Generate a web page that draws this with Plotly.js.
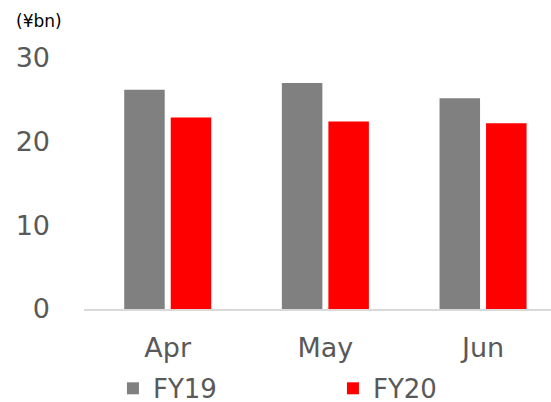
<!DOCTYPE html>
<html>
<head>
<meta charset="utf-8">
<script src="https://cdn.plot.ly/plotly-3.0.1.min.js"></script>
<style>html,body{margin:0;padding:0;background:#fff;}#chart{width:551px;height:402px;}</style>
</head>
<body>
<div id="chart"></div>
<script>
const categories = ["Apr", "May", "Jun"];
const seriesNames = ["FY19", "FY20"];
const fy19 = [26.2, 27.0, 25.2];
const fy20 = [22.9, 22.4, 22.2];
const yTicks = [0, 10, 20, 30];
const unitLabel = "(¥bn)";

const FONT = "DejaVu Sans, Verdana, sans-serif";
const TXT = "#595959";

const traces = [
  {type: "bar", name: seriesNames[0], x: categories, y: fy19, marker: {color: "#808080"}, hoverinfo: "none"},
  {type: "bar", name: seriesNames[1], x: categories, y: fy20, marker: {color: "#FF0000"}, hoverinfo: "none"}
];

const layout = {
  width: 551, height: 402,
  margin: {l: 84, r: 0, t: 58, b: 93, pad: 0, autoexpand: false},
  paper_bgcolor: "#fff", plot_bgcolor: "#fff",
  font: {family: FONT, color: TXT},
  barmode: "group",
  bargap: 0.41,
  bargroupgap: 0.129,
  showlegend: true,
  legend: {
    orientation: "h",
    xref: "container", yref: "paper",
    x: 0.205, y: -0.41, xanchor: "left", yanchor: "bottom",
    font: {family: FONT, size: 26, color: TXT},
    entrywidth: 175, entrywidthmode: "pixels",
    bgcolor: "rgba(0,0,0,0)", borderwidth: 0,
    itemclick: false, tracegroupgap: 0
  },
  xaxis: {
    type: "category",
    range: [-0.531, 2.431],
    showline: true, linecolor: "#D9D9D9", linewidth: 2,
    showgrid: false, zeroline: false, ticks: "",
    tickfont: {family: FONT, size: 27, color: TXT},
    ticklabelstandoff: 14,
    automargin: false,
    fixedrange: true
  },
  yaxis: {
    range: [0, 30],
    tickvals: yTicks,
    ticktext: yTicks.map(String),
    showgrid: false, zeroline: false, showline: false, ticks: "",
    tickfont: {family: FONT, size: 27, color: TXT},
    ticklabelstandoff: 33,
    automargin: false,
    fixedrange: true
  },
  annotations: [{
    text: unitLabel, xref: "paper", yref: "paper",
    x: 0, y: 1, xshift: -70, yshift: 37,
    xanchor: "left", yanchor: "middle", showarrow: false,
    font: {family: FONT, size: 17, color: "#000000"}
  }]
};

Plotly.newPlot("chart", traces, layout, {displayModeBar: false, staticPlot: true});
</script>
</body>
</html>
